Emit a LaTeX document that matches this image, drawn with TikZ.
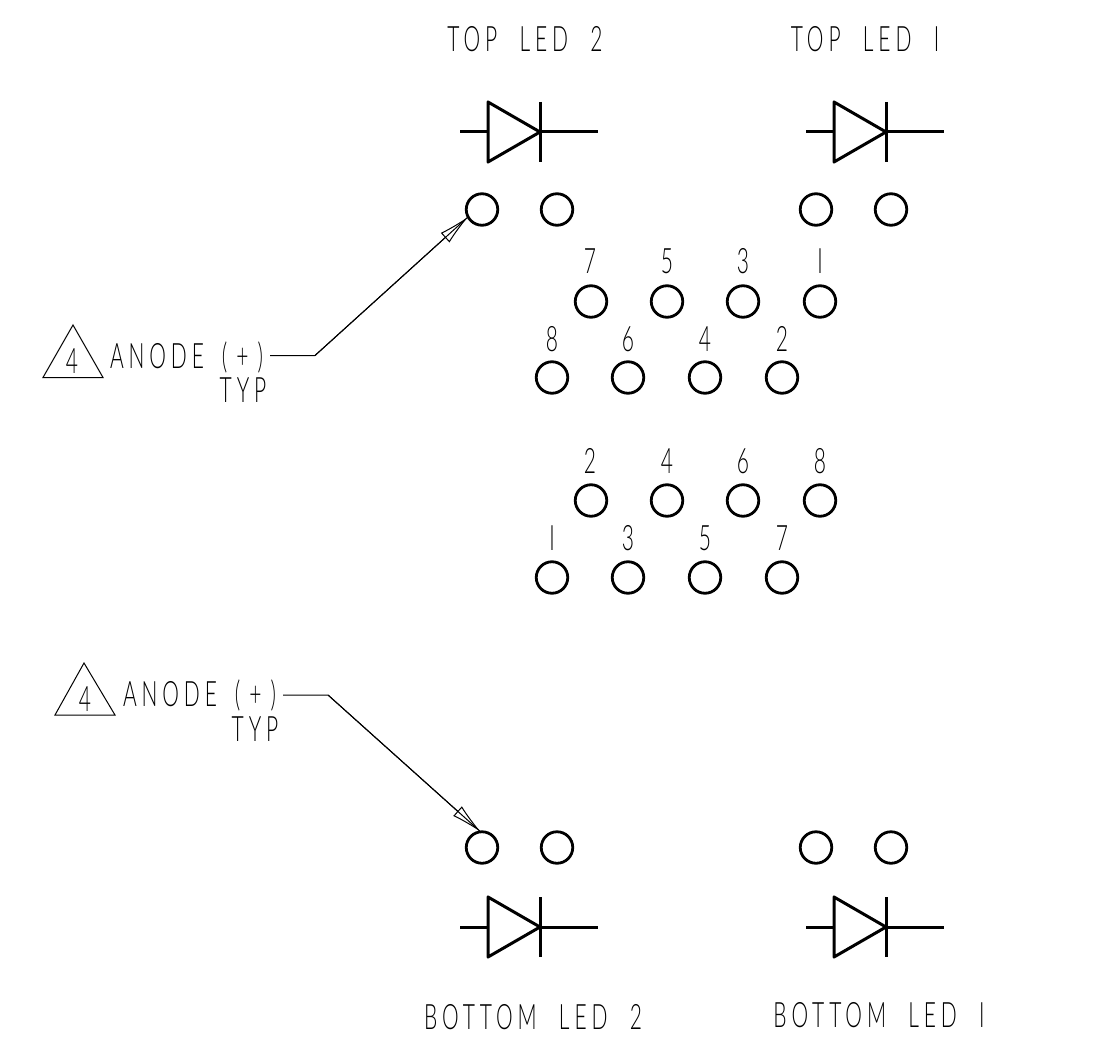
\documentclass[tikz,border=0pt]{standalone}
\usepackage{fontspec}
\setmainfont{Lato Light}[FakeStretch=0.6,LetterSpace=14,WordSpace=2.1]
\usetikzlibrary{arrows.meta}
\tikzset{
  x=1pt,y=-1pt,
  pad/.style={circle,draw,line width=2.8pt,minimum size=31.5pt,inner sep=0pt,outer sep=0pt},
  lbl/.style={inner sep=0pt,outer sep=0pt,font=\fontsize{35}{35}\selectfont,text=black},
  num/.style={lbl,font=\fontsize{35}{35}\selectfont},
  dio/.style={line width=3pt,line join=round},
  thin line/.style={line width=1pt,line join=miter},
  leader/.style={thin line,-{Latex[open,length=31pt,width=13pt,line width=1pt]}},
}
\newcommand{\anodetext}{ANODE\hspace{18pt}(\hspace{9pt}+\hspace{9pt})}
\newcommand{\diode}[2]{%
  \draw[dio] (#1+28,#2-30) -- (#1+28,#2+30) -- (#1+80,#2) -- cycle;
  \draw[dio] (#1+80,#2-30) -- (#1+80,#2+30);
  \draw[dio] (#1,#2) -- (#1+28,#2);
  \draw[dio] (#1+80,#2) -- (#1+138,#2);
}
\begin{document}
\begin{tikzpicture}
\useasboundingbox (0,0) rectangle (1115,1056);
% pads
\foreach \n/\x/\y in {a/482/209.5,b/557/209.5,c/816/209.5,d/891/209.5,e/482/847.5,f/557/847.5,g/816/847.5,h/891/847.5,
 r1/591/301.5,r2/667/301.5,r3/743/301.5,r4/820/301.5,
 s1/552/377.5,s2/628/377.5,s3/705/377.5,s4/782/377.5,
 t1/591/500.5,t2/667/500.5,t3/743/500.5,t4/820/500.5,
 u1/552/577.5,u2/628/577.5,u3/705/577.5,u4/782/577.5}
  \node[pad] (\n) at (\x,\y) {};
% pin numbers
\foreach \n/\t/\x/\y in {n1/7/590/261,n2/5/667/261,n3/3/743/261,n4/I/820/261,
 n5/8/552/339,n6/6/628/339,n7/4/705/339,n8/2/782/339,
 n9/2/590/461,n10/4/667/461,n11/6/743/461,n12/8/820/461,
 n13/I/552/538,n14/3/628/538,n15/5/705/538,n16/7/782/538}
  \node[num] (\n) at (\x,\y) {\t};
% diodes
\diode{460}{132}
\diode{806}{132}
\diode{460}{927}
\diode{806}{927}
% titles
\node[lbl] (tl2) at (525,39) {TOP LED 2};
\node[lbl] (tl1) at (865,39) {TOP LED I};
\node[lbl] (bl2) at (533,1017) {BOTTOM LED 2};
\node[lbl] (bl1) at (879,1015) {BOTTOM LED I};
% notes
\draw[thin line] (73,325) -- (43,377.5) -- (103,377.5) -- cycle;
\node[num] (d1) at (72,361) {4};
\node[lbl,anchor=west] (an1) at (110,357) {\anodetext};
\node[lbl] (ty1) at (243,390) {TYP};
\coordinate (e1) at (270,355.5);
\coordinate (k1) at (315,355.5);
\draw[thin line] (e1) -- (k1) -- (a.208);
\draw[leader] (k1) -- (a.208);
\draw[thin line] (84,663) -- (55,715) -- (115,715) -- cycle;
\node[num] (d2) at (85,699) {4};
\node[lbl,anchor=west] (an2) at (123,695) {\anodetext};
\node[lbl] (ty2) at (255,729) {TYP};
\coordinate (e2) at (283,695);
\coordinate (k2) at (328,695);
\draw[thin line] (e2) -- (k2) -- (e.95);
\draw[leader] (k2) -- (e.95);
\end{tikzpicture}
\end{document}
